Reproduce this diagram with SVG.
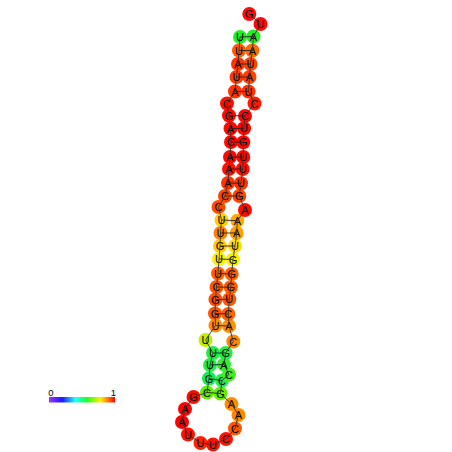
<svg xmlns="http://www.w3.org/2000/svg" width="452" height="452" viewBox="0 0 452 452">
<defs>
<style>
.n circle{r:7px;stroke:none}
.n text{font-family:"Liberation Sans",Arial,sans-serif;font-size:11px;text-anchor:middle;fill:#000}
.bb{fill:none;stroke:#333;stroke-width:0.9}
.bp{stroke:#222;stroke-width:0.9}
.lbl{font-family:"Liberation Sans",Arial,sans-serif;font-size:9.5px;text-anchor:middle;fill:#000}
</style>
<linearGradient id="cbar" x1="0" y1="0" x2="1" y2="0">
<stop offset="0" stop-color="#a030ff"/>
<stop offset="0.2" stop-color="#1a1aff"/>
<stop offset="0.4" stop-color="#22ffff"/>
<stop offset="0.58" stop-color="#22ff22"/>
<stop offset="0.78" stop-color="#ffee00"/>
<stop offset="0.88" stop-color="#ff8800"/>
<stop offset="1" stop-color="#ff0000"/>
</linearGradient>
</defs>
<rect width="452" height="452" fill="#fff"/>
<g id="nodes">
<g id="n1" class="n"><circle cx="240" cy="37" fill="#22f022"/><text x="240" y="41">U</text></g>
<g id="n2" class="n"><circle cx="239" cy="50.5" fill="#ff5a00"/><text x="239" y="54.5">U</text></g>
<g id="n3" class="n"><circle cx="238" cy="64" fill="#ff3300"/><text x="238" y="68">A</text></g>
<g id="n4" class="n"><circle cx="236.5" cy="77" fill="#ff3a00"/><text x="236.5" y="81">U</text></g>
<g id="n5" class="n"><circle cx="235" cy="91.5" fill="#ff3300"/><text x="235" y="95.5">A</text></g>
<g id="n6" class="n"><circle cx="227" cy="103.5" fill="#ff1100"/><text x="227" y="107.5">C</text></g>
<g id="n7" class="n"><circle cx="229" cy="115.5" fill="#ff0800"/><text x="229" y="119.5">G</text></g>
<g id="n8" class="n"><circle cx="230.5" cy="128.5" fill="#ff0800"/><text x="230.5" y="132.5">A</text></g>
<g id="n9" class="n"><circle cx="231" cy="142" fill="#ff0800"/><text x="231" y="146">C</text></g>
<g id="n10" class="n"><circle cx="230" cy="157" fill="#ff0800"/><text x="230" y="161">A</text></g>
<g id="n11" class="n"><circle cx="229" cy="169" fill="#ff1000"/><text x="229" y="173">A</text></g>
<g id="n12" class="n"><circle cx="228" cy="183" fill="#ff3300"/><text x="228" y="187">A</text></g>
<g id="n13" class="n"><circle cx="225" cy="196" fill="#ff4400"/><text x="225" y="200">C</text></g>
<g id="n14" class="n"><circle cx="218.5" cy="207" fill="#ff4a00"/><text x="218.5" y="211">C</text></g>
<g id="n15" class="n"><circle cx="221.5" cy="220" fill="#ffd000"/><text x="221.5" y="224">U</text></g>
<g id="n16" class="n"><circle cx="220.5" cy="233" fill="#ff8000"/><text x="220.5" y="237">U</text></g>
<g id="n17" class="n"><circle cx="220" cy="246" fill="#ffcc00"/><text x="220" y="250">G</text></g>
<g id="n18" class="n"><circle cx="219" cy="259" fill="#ffee00"/><text x="219" y="263">U</text></g>
<g id="n19" class="n"><circle cx="218" cy="273.5" fill="#ff6000"/><text x="218" y="277.5">U</text></g>
<g id="n20" class="n"><circle cx="216.5" cy="287" fill="#ff5500"/><text x="216.5" y="291">C</text></g>
<g id="n21" class="n"><circle cx="215.5" cy="299.5" fill="#ff5000"/><text x="215.5" y="303.5">G</text></g>
<g id="n22" class="n"><circle cx="215" cy="313.5" fill="#ff5500"/><text x="215" y="317.5">G</text></g>
<g id="n23" class="n"><circle cx="215.5" cy="325.5" fill="#ff8c00"/><text x="215.5" y="329.5">U</text></g>
<g id="n24" class="n"><circle cx="205.5" cy="340" fill="#c0f000"/><text x="205.5" y="344">U</text></g>
<g id="n25" class="n"><circle cx="213" cy="353" fill="#22ee44"/><text x="213" y="357">U</text></g>
<g id="n26" class="n"><circle cx="210" cy="365" fill="#22ee44"/><text x="210" y="369">U</text></g>
<g id="n27" class="n"><circle cx="209" cy="378.5" fill="#11ee55"/><text x="209" y="382.5">G</text></g>
<g id="n28" class="n"><circle cx="207" cy="392.5" fill="#66ee00"/><text x="207" y="396.5">C</text></g>
<g id="n29" class="n"><circle cx="193.5" cy="397" fill="#ff0a00"/><text x="193.5" y="401">G</text></g>
<g id="n30" class="n"><circle cx="185" cy="409" fill="#ff0000"/><text x="185" y="413">A</text></g>
<g id="n31" class="n"><circle cx="182" cy="422" fill="#ff0000"/><text x="182" y="426">A</text></g>
<g id="n32" class="n"><circle cx="188" cy="434.5" fill="#ff1100"/><text x="188" y="438.5">U</text></g>
<g id="n33" class="n"><circle cx="200.5" cy="443" fill="#ff2200"/><text x="200.5" y="447">U</text></g>
<g id="n34" class="n"><circle cx="213" cy="444.5" fill="#ff1100"/><text x="213" y="448.5">U</text></g>
<g id="n35" class="n"><circle cx="226" cy="439" fill="#ff1100"/><text x="226" y="443">C</text></g>
<g id="n36" class="n"><circle cx="235" cy="428.5" fill="#ff5500"/><text x="235" y="432.5">C</text></g>
<g id="n37" class="n"><circle cx="238.5" cy="415" fill="#ff8800"/><text x="238.5" y="419">A</text></g>
<g id="n38" class="n"><circle cx="231.5" cy="404" fill="#ff8c00"/><text x="231.5" y="408">A</text></g>
<g id="n39" class="n"><circle cx="220.5" cy="393.5" fill="#66ee00"/><text x="220.5" y="397.5">G</text></g>
<g id="n40" class="n"><circle cx="222" cy="380.5" fill="#22ee55"/><text x="222" y="384.5">C</text></g>
<g id="n41" class="n"><circle cx="229" cy="374.5" fill="#44ee22"/><text x="229" y="378.5">C</text></g>
<g id="n42" class="n"><circle cx="224" cy="364.5" fill="#33ee33"/><text x="224" y="368.5">A</text></g>
<g id="n43" class="n"><circle cx="225.7" cy="353" fill="#22ee44"/><text x="225.7" y="357">G</text></g>
<g id="n44" class="n"><circle cx="233.3" cy="341.5" fill="#ff8800"/><text x="233.3" y="345.5">C</text></g>
<g id="n45" class="n"><circle cx="229" cy="326" fill="#ff9000"/><text x="229" y="330">A</text></g>
<g id="n46" class="n"><circle cx="228.3" cy="314" fill="#ff6000"/><text x="228.3" y="318">C</text></g>
<g id="n47" class="n"><circle cx="229.3" cy="299.3" fill="#ff5500"/><text x="229.3" y="303.3">U</text></g>
<g id="n48" class="n"><circle cx="230.7" cy="287.3" fill="#ff5a00"/><text x="230.7" y="291.3">G</text></g>
<g id="n49" class="n"><circle cx="231.7" cy="274" fill="#ff6000"/><text x="231.7" y="278">G</text></g>
<g id="n50" class="n"><circle cx="233" cy="259.5" fill="#ffee00"/><text x="233" y="263.5">G</text></g>
<g id="n51" class="n"><circle cx="235" cy="246" fill="#ffdd00"/><text x="235" y="250">U</text></g>
<g id="n52" class="n"><circle cx="236.7" cy="233" fill="#ffa000"/><text x="236.7" y="237">A</text></g>
<g id="n53" class="n"><circle cx="237.3" cy="220.7" fill="#ffaa00"/><text x="237.3" y="224.7">A</text></g>
<g id="n54" class="n"><circle cx="245" cy="210" fill="#ff0a00"/><text x="245" y="214">A</text></g>
<g id="n55" class="n"><circle cx="239.3" cy="196" fill="#ff4400"/><text x="239.3" y="200">G</text></g>
<g id="n56" class="n"><circle cx="241" cy="183.3" fill="#ff3300"/><text x="241" y="187.3">U</text></g>
<g id="n57" class="n"><circle cx="242.7" cy="169" fill="#ff1000"/><text x="242.7" y="173">U</text></g>
<g id="n58" class="n"><circle cx="243.3" cy="157" fill="#ff0800"/><text x="243.3" y="161">U</text></g>
<g id="n59" class="n"><circle cx="243.3" cy="142.3" fill="#ff0800"/><text x="243.3" y="146.3">G</text></g>
<g id="n60" class="n"><circle cx="244" cy="128.3" fill="#ff0800"/><text x="244" y="132.3">U</text></g>
<g id="n61" class="n"><circle cx="245" cy="116" fill="#ff0800"/><text x="245" y="120">C</text></g>
<g id="n62" class="n"><circle cx="254.5" cy="103.5" fill="#ff1a00"/><text x="254.5" y="107.5">C</text></g>
<g id="n63" class="n"><circle cx="248.5" cy="91.5" fill="#ff3300"/><text x="248.5" y="95.5">U</text></g>
<g id="n64" class="n"><circle cx="249.5" cy="77" fill="#ff4000"/><text x="249.5" y="81">A</text></g>
<g id="n65" class="n"><circle cx="250.5" cy="64" fill="#ff4400"/><text x="250.5" y="68">U</text></g>
<g id="n66" class="n"><circle cx="252.3" cy="50.5" fill="#ff6a00"/><text x="252.3" y="54.5">A</text></g>
<g id="n67" class="n"><circle cx="253.5" cy="36.5" fill="#22f022"/><text x="253.5" y="40.5">A</text></g>
<g id="n68" class="n"><circle cx="260.5" cy="24" fill="#ff0a0a"/><text x="260.5" y="28">U</text></g>
<g id="n69" class="n"><circle cx="249.3" cy="14" fill="#ff0a0a"/><text x="249.3" y="18">G</text></g>
</g>
<g id="connectors">
<polyline class="bb" points="240,37 239,50.5 238,64 236.5,77 235,91.5 227,103.5 229,115.5 230.5,128.5 231,142 230,157 229,169 228,183 225,196 218.5,207 221.5,220 220.5,233 220,246 219,259 218,273.5 216.5,287 215.5,299.5 215,313.5 215.5,325.5 205.5,340 213,353 210,365 209,378.5 207,392.5 193.5,397 185,409 182,422 188,434.5 200.5,443 213,444.5 226,439 235,428.5 238.5,415 231.5,404 220.5,393.5 222,380.5 229,374.5 224,364.5 225.7,353 233.3,341.5 229,326 228.3,314 229.3,299.3 230.7,287.3 231.7,274 233,259.5 235,246 236.7,233 237.3,220.7 245,210 239.3,196 241,183.3 242.7,169 243.3,157 243.3,142.3 244,128.3 245,116 254.5,103.5 248.5,91.5 249.5,77 250.5,64 252.3,50.5 253.5,36.5 260.5,24 249.3,14"/>
<line class="bp" x1="240" y1="37" x2="253.5" y2="36.5"/>
<line class="bp" x1="239" y1="50.5" x2="252.3" y2="50.5"/>
<line class="bp" x1="238" y1="64" x2="250.5" y2="64"/>
<line class="bp" x1="236.5" y1="77" x2="249.5" y2="77"/>
<line class="bp" x1="235" y1="91.5" x2="248.5" y2="91.5"/>
<line class="bp" x1="229" y1="115.5" x2="245" y2="116"/>
<line class="bp" x1="230.5" y1="128.5" x2="244" y2="128.3"/>
<line class="bp" x1="231" y1="142" x2="243.3" y2="142.3"/>
<line class="bp" x1="230" y1="157" x2="243.3" y2="157"/>
<line class="bp" x1="229" y1="169" x2="242.7" y2="169"/>
<line class="bp" x1="228" y1="183" x2="241" y2="183.3"/>
<line class="bp" x1="225" y1="196" x2="239.3" y2="196"/>
<line class="bp" x1="221.5" y1="220" x2="237.3" y2="220.7"/>
<line class="bp" x1="220.5" y1="233" x2="236.7" y2="233"/>
<line class="bp" x1="220" y1="246" x2="235" y2="246"/>
<line class="bp" x1="219" y1="259" x2="233" y2="259.5"/>
<line class="bp" x1="218" y1="273.5" x2="231.7" y2="274"/>
<line class="bp" x1="216.5" y1="287" x2="230.7" y2="287.3"/>
<line class="bp" x1="215.5" y1="299.5" x2="229.3" y2="299.3"/>
<line class="bp" x1="215" y1="313.5" x2="228.3" y2="314"/>
<line class="bp" x1="215.5" y1="325.5" x2="229" y2="326"/>
<line class="bp" x1="213" y1="353" x2="225.7" y2="353"/>
<line class="bp" x1="210" y1="365" x2="224" y2="364.5"/>
<line class="bp" x1="209" y1="378.5" x2="222" y2="380.5"/>
<line class="bp" x1="207" y1="392.5" x2="220.5" y2="393.5"/>
</g>
<g id="colorbar">
<rect x="49" y="397" width="66" height="5.5" fill="url(#cbar)"/>
<text class="lbl" x="51" y="396">0</text>
<text class="lbl" x="113.5" y="396">1</text>
</g>
</svg>
